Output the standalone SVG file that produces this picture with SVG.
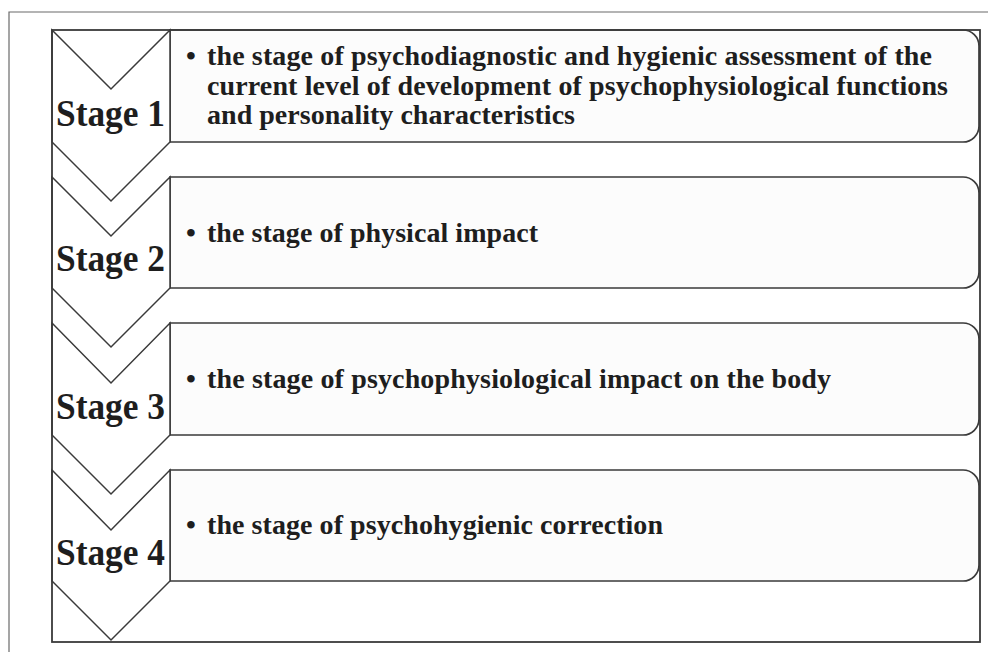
<svg xmlns="http://www.w3.org/2000/svg" width="988" height="652" viewBox="0 0 988 652">
  <style>
    .frame { fill: none; stroke: #6a6a6a; stroke-width: 1.2; }
    .bound { fill: none; stroke: #3a3a3a; stroke-width: 1.8; }
    .box { fill: #fcfcfc; stroke: #3a3a3a; stroke-width: 1.7; }
    .chev { fill: #ffffff; stroke: #3a3a3a; stroke-width: 1.5; stroke-linejoin: miter; }
    .label { font-family: "Liberation Serif", "Times New Roman", serif; font-weight: bold; font-size: 38px; fill: #1e1e1e; }
    .body { font-family: "Liberation Serif", "Times New Roman", serif; font-weight: bold; font-size: 28px; fill: #1e1e1e; }
  </style>

  <rect width="988" height="652" fill="#ffffff"/>

  <!-- outer page frame (top and left edges only) -->
  <path class="frame" d="M9,652 V12 H988"/>

  <!-- stage 1 -->
  <g id="box-1">
    <path class="box" d="M170,30 H963 A16,16 0 0 1 979,46 V126 A16,16 0 0 1 963,142 H170 Z"/>
    <text class="body" x="186" y="65">•</text>
    <text class="body" x="207" y="65" textLength="725" lengthAdjust="spacing">the stage of psychodiagnostic and hygienic assessment of the</text>
    <text class="body" x="207" y="95" textLength="741" lengthAdjust="spacing">current level of development of psychophysiological functions</text>
    <text class="body" x="207" y="124" textLength="368" lengthAdjust="spacing">and personality characteristics</text>
  </g>
  <g id="stage-1">
    <polygon class="chev" points="52,30 111,89 170,30 170,142 111,201 52,142"/>
    <text class="label" x="56" y="126" textLength="109" lengthAdjust="spacingAndGlyphs">Stage 1</text>
  </g>

  <!-- stage 2 -->
  <g id="box-2">
    <path class="box" d="M170,177 H963 A16,16 0 0 1 979,193 V272 A16,16 0 0 1 963,288 H170 Z"/>
    <text class="body" x="186" y="242">•</text>
    <text class="body" x="207" y="242" textLength="331" lengthAdjust="spacing">the stage of physical impact</text>
  </g>
  <g id="stage-2">
    <polygon class="chev" points="52,177 111,236 170,177 170,288 111,347 52,288"/>
    <text class="label" x="56" y="271" textLength="109" lengthAdjust="spacingAndGlyphs">Stage 2</text>
  </g>

  <!-- stage 3 -->
  <g id="box-3">
    <path class="box" d="M170,323 H963 A16,16 0 0 1 979,339 V419 A16,16 0 0 1 963,435 H170 Z"/>
    <text class="body" x="186" y="388">•</text>
    <text class="body" x="207" y="388" textLength="624" lengthAdjust="spacing">the stage of psychophysiological impact on the body</text>
  </g>
  <g id="stage-3">
    <polygon class="chev" points="52,323 111,383 170,323 170,435 111,494 52,435"/>
    <text class="label" x="56" y="419" textLength="109" lengthAdjust="spacingAndGlyphs">Stage 3</text>
  </g>

  <!-- stage 4 -->
  <g id="box-4">
    <path class="box" d="M170,470 H963 A16,16 0 0 1 979,486 V565 A16,16 0 0 1 963,581 H170 Z"/>
    <text class="body" x="186" y="534">•</text>
    <text class="body" x="207" y="534" textLength="456" lengthAdjust="spacing">the stage of psychohygienic correction</text>
  </g>
  <g id="stage-4">
    <polygon class="chev" points="52,470 111,530 170,470 170,581 111,640 52,581"/>
    <text class="label" x="56" y="565" textLength="109" lengthAdjust="spacingAndGlyphs">Stage 4</text>
  </g>

  <!-- enclosing panel -->
  <g id="connectors">
    <rect class="bound" x="52" y="30" width="928" height="612"/>
  </g>
</svg>
